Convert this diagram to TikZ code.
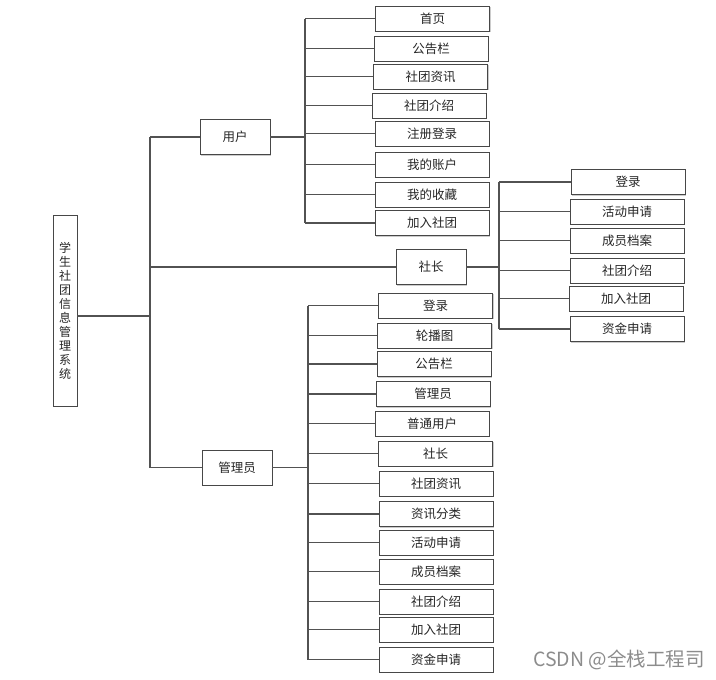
\documentclass[tikz,border=0pt]{standalone}
\usepackage{fontspec}
\newfontfamily\cjk{Noto Sans CJK SC}
\usetikzlibrary{shadows}
\begin{document}
\begin{tikzpicture}[x=1pt,y=-1pt,
  box/.style={draw=black!72, line width=0.9pt, fill=white, minimum width=114pt, minimum height=25pt,
    inner sep=0pt, font=\cjk\fontsize{12.5}{13}\selectfont, text=black!85,
    drop shadow={shadow xshift=1pt, shadow yshift=-1pt, fill=black!20, opacity=1}},
  midbox/.style={box, minimum width=70pt, minimum height=35pt},
  conn/.style={draw=black!68, line width=1.1pt}]
\useasboundingbox (0,0) rectangle (716,680);

% root
\node[box, minimum width=24pt, minimum height=191pt, align=center,
  font=\cjk\fontsize{12}{14}\selectfont] (root) at (65,310.5)
  {学\\生\\社\\团\\信\\息\\管\\理\\系\\统};

% second level
\node[midbox] (user) at (235,137) {用户};
\node[midbox] (pres) at (431,267) {社长};
\node[midbox] (admin) at (237,467.5) {管理员};

% user children
\node[box] (u1) at (432.5,18.5) {首页};
\node[box] (u2) at (431,48.5) {公告栏};
\node[box] (u3) at (430.5,76.5) {社团资讯};
\node[box] (u4) at (429,105.5) {社团介绍};
\node[box] (u5) at (432,133.5) {注册登录};
\node[box] (u6) at (432,164.5) {我的账户};
\node[box] (u7) at (432,194.5) {我的收藏};
\node[box] (u8) at (432,223) {加入社团};

% president children
\node[box] (p1) at (628,182) {登录};
\node[box] (p2) at (627,211.5) {活动申请};
\node[box] (p3) at (627,240.5) {成员档案};
\node[box] (p4) at (627,270.5) {社团介绍};
\node[box] (p5) at (626,298.5) {加入社团};
\node[box] (p6) at (627,329) {资金申请};

% admin children
\node[box] (a1) at (435.5,305.5) {登录};
\node[box] (a2) at (434.5,335.5) {轮播图};
\node[box] (a3) at (434,364) {公告栏};
\node[box] (a4) at (433,394) {管理员};
\node[box] (a5) at (432,423.5) {普通用户};
\node[box] (a6) at (435.5,453.5) {社长};
\node[box] (a7) at (436,483.5) {社团资讯};
\node[box] (a8) at (436,514) {资讯分类};
\node[box] (a9) at (436,542.5) {活动申请};
\node[box] (a10) at (436,571.5) {成员档案};
\node[box] (a11) at (436,601.5) {社团介绍};
\node[box] (a12) at (436,629.5) {加入社团};
\node[box] (a13) at (436,659.5) {资金申请};

% bus coordinates
\coordinate (mbus) at (150,316);
\coordinate (ubus) at (305,137);
\coordinate (pbus) at (499,267);
\coordinate (abus) at (308,467.5);

% root to main trunk
\draw[conn] (root.east |- mbus) -- (mbus);
\draw[conn] (mbus |- user.west) -- (mbus |- admin.west);
\draw[conn] (mbus |- user.west) -- (user.west);
\draw[conn] (mbus |- pres.west) -- (pres.west);
\draw[conn] (mbus |- admin.west) -- (admin.west);

% user branch
\draw[conn] (user.east) -- (ubus |- user.east);
\draw[conn] (ubus |- u1.west) -- (ubus |- u8.west);
\foreach \n in {u1,u2,u3,u4,u5,u6,u7,u8}
  \draw[conn] (ubus |- \n.west) -- (\n.west);

% president branch
\draw[conn] (pres.east) -- (pbus |- pres.east);
\draw[conn] (pbus |- p1.west) -- (pbus |- p6.west);
\foreach \n in {p1,p2,p3,p4,p5,p6}
  \draw[conn] (pbus |- \n.west) -- (\n.west);

% admin branch
\draw[conn] (admin.east) -- (abus |- admin.east);
\draw[conn] (abus |- a1.west) -- (abus |- a13.west);
\foreach \n in {a1,a2,a3,a4,a5,a6,a7,a8,a9,a10,a11,a12,a13}
  \draw[conn] (abus |- \n.west) -- (\n.west);

% watermark
\node[anchor=west, inner sep=0pt, text=black!45, font=\cjk\fontsize{19.5}{20}\selectfont] (wm) at (533,660) {CSDN @全栈工程司};
\end{tikzpicture}
\end{document}
